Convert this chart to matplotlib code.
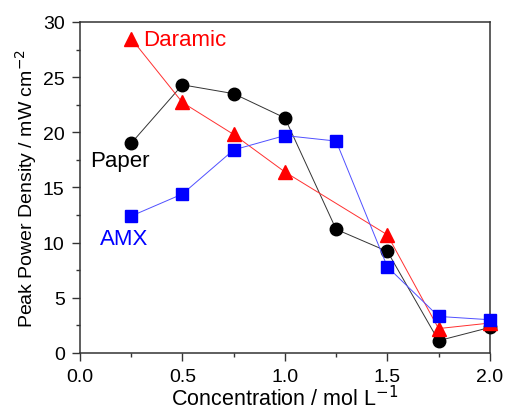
import matplotlib
matplotlib.use('Agg')
import matplotlib.pyplot as plt
from matplotlib.ticker import MultipleLocator

plt.rcParams['font.family'] = ['Liberation Sans', 'DejaVu Sans']

conc = [0.25, 0.5, 0.75, 1.0, 1.25, 1.5, 1.75, 2.0]
paper = [19.0, 24.3, 23.5, 21.3, 11.2, 9.2, 1.1, 2.3]
daramic_conc = [0.25, 0.5, 0.75, 1.0, 1.5, 1.75, 2.0]
daramic = [28.5, 22.7, 19.8, 16.4, 10.7, 2.2, 2.7]
amx = [12.4, 14.4, 18.4, 19.7, 19.2, 7.8, 3.3, 3.0]

fig = plt.figure(figsize=(5.06, 4.10), dpi=100)
ax = fig.add_axes([0.158, 0.137, 0.81, 0.807])

ax.plot(conc, paper, '-o', color='#333333', mfc='black', mec='black', lw=0.7, ms=9, clip_on=False, zorder=3)
ax.plot(daramic_conc, daramic, '-^', color='#ff3030', mfc='red', mec='red', lw=0.7, ms=10, clip_on=False, zorder=3)
ax.plot(conc, amx, '-s', color='#5050ff', mfc='blue', mec='blue', lw=0.7, ms=8, clip_on=False, zorder=3)

ax.text(0.31, 28.4, 'Daramic', color='red', fontsize=16, va='center')
ax.text(0.05, 17.4, 'Paper', color='black', fontsize=16, va='center')
ax.text(0.10, 10.4, 'AMX', color='blue', fontsize=16, va='center')

ax.set_xlim(0, 2.0)
ax.set_ylim(0, 30)
ax.xaxis.set_major_locator(MultipleLocator(0.5))
ax.xaxis.set_minor_locator(MultipleLocator(0.25))
ax.yaxis.set_major_locator(MultipleLocator(5))
ax.yaxis.set_minor_locator(MultipleLocator(2.5))
ax.tick_params(which='both', direction='out', top=False, right=False, labelsize=14, color='#333333', width=1.0)
ax.tick_params(which='major', length=6, pad=5)
ax.tick_params(which='minor', length=3)
for s in ax.spines.values():
    s.set_color('#333333')
    s.set_linewidth(1.1)

ax.set_xlabel('Concentration / mol L$^{\u22121}$', fontsize=15.5, labelpad=0)
ax.set_ylabel('Peak Power Density / mW cm$^{-2}$', fontsize=14, labelpad=3)

fig.savefig('out.png', dpi=100)
